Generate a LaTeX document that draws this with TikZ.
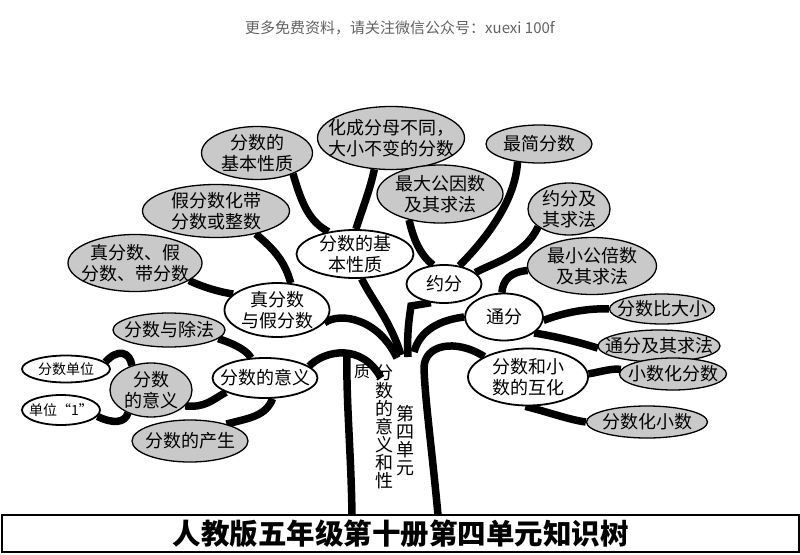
\documentclass[tikz,border=0pt]{standalone}
\usepackage{fontspec}
\setmainfont{Noto Sans CJK SC}
\usetikzlibrary{shapes.geometric}
\pgfdeclarelayer{bg}
\pgfsetlayers{bg,main}

\begin{document}
\begin{tikzpicture}[x=1pt, y=-1pt,
    wnode/.style={ellipse, draw, line width=1.8pt, fill=white, inner sep=-12pt, align=center, font=\fontsize{18}{21}\selectfont},
    gnode/.style={ellipse, draw, line width=1.3pt, fill=gray!42, inner sep=-12pt, align=center, font=\fontsize{18}{21}\selectfont},
    snode/.style={wnode, font=\fontsize{14}{16}\selectfont},
    vtext/.style={align=center, inner sep=0pt, font=\fontsize{18}{18}\selectfont},
    branch/.style={line width=7.5pt}]
    \useasboundingbox (0,0) rectangle (800,554);

    \coordinate (t01) at (352,515);
    \coordinate (t02) at (347,354);
    \coordinate (t03) at (381,378);
    \coordinate (t04) at (397,358);
    \coordinate (t05) at (401,355);
    \coordinate (t06) at (408,357);
    \coordinate (t07) at (414,352);
    \coordinate (t08) at (438,515);

    \node[text=black!62, font=\fontsize{15}{18}\selectfont] (h01) at (400,28) {更多免费资料，请关注微信公众号：xuexi 100f};
    \node[draw, line width=1.5pt, minimum width=797, minimum height=37, inner sep=0pt, font=\bfseries\fontsize{28.5}{30}\selectfont] (title) at (400.5,533.5) {人教版五年级第十册第四单元知识树};

    \node[wnode, minimum width=105, minimum height=40] (w01) at (265,378) {分数的意义};
    \node[wnode, minimum width=105, minimum height=54] (w02) at (277,310) {真分数\\与假分数};
    \node[wnode, minimum width=117, minimum height=48] (w03) at (355,254) {分数的基\\本性质};
    \node[wnode, minimum width=75, minimum height=38] (w04) at (444,284) {约分};
    \node[wnode, minimum width=78, minimum height=47] (w05) at (504,317) {通分};
    \node[wnode, minimum width=120, minimum height=57] (w06) at (528,377) {分数和小\\数的互化};
    \node[snode, minimum width=88, minimum height=27] (w07) at (66,369) {分数单位};
    \node[snode, minimum width=78, minimum height=30] (w08) at (61,410) {单位“1”};

    \node[gnode, minimum width=82, minimum height=54] (g01) at (151,390) {分数\\的意义};
    \node[gnode, minimum width=116, minimum height=42] (g02) at (190,441) {分数的产生};
    \node[gnode, minimum width=112, minimum height=34] (g03) at (169,330) {分数与除法};
    \node[gnode, minimum width=134, minimum height=57] (g04) at (135,263) {真分数、假\\分数、带分数};
    \node[gnode, minimum width=147, minimum height=53] (g05) at (216,211) {假分数化带\\分数或整数};
    \node[gnode, minimum width=111, minimum height=53] (g06) at (257,153) {分数的\\基本性质};
    \node[gnode, minimum width=147, minimum height=63] (g07) at (391,138) {化成分母不同，\\大小不变的分数};
    \node[gnode, minimum width=126, minimum height=58] (g08) at (440,194) {最大公因数\\及其求法};
    \node[gnode, minimum width=106, minimum height=38] (g09) at (539,144) {最简分数};
    \node[gnode, minimum width=82, minimum height=52] (g10) at (569,209) {约分及\\其求法};
    \node[gnode, minimum width=129, minimum height=57] (g11) at (592,266) {最小公倍数\\及其求法};
    \node[gnode, minimum width=105, minimum height=30] (g12) at (662,309) {分数比大小};
    \node[gnode, minimum width=122, minimum height=32] (g13) at (659,346) {通分及其求法};
    \node[gnode, minimum width=107, minimum height=32] (g14) at (673,374) {小数化分数};
    \node[gnode, minimum width=121, minimum height=32] (g15) at (647,422) {分数化小数};

    \node[vtext] (v01) at (405,441) {第\\四\\单\\元};
    \node[vtext] (v02) at (384,427) {分\\数\\的\\意\\义\\和\\性};
    \node[vtext, font=\fontsize{16}{16}\selectfont] (v03) at (362,371) {质};

    \begin{pgfonlayer}{bg}
    \draw[branch] (t01) .. controls (351,450) and (346,400) .. (t02);
    \draw[branch] (w01.15) .. controls (325,350) and (362,343) .. (t03);
    \draw[branch] (w02.-15) .. controls (340,312) and (378,318) .. (t04);
    \draw[branch] (w03.-75) .. controls (372,300) and (390,320) .. (t05);
    \draw[branch] (w04.-125) -- (411,306) .. controls (408,325) and (407,340) .. (t06);
    \draw[branch] (w05.180) .. controls (440,320) and (420,330) .. (t07);
    \draw[branch] (t08) .. controls (432,450) and (425,400) .. (424,368) .. controls (424,345) and (455,338) .. (w06.155);

    \draw[branch] (w07.10) .. controls (118,348) and (130,352) .. (g01.128);
    \draw[branch] (w08.-10) .. controls (113,424) and (125,423) .. (g01.225);
    \draw[branch] (g01.-25) .. controls (205,408) and (212,400) .. (w01.200);
    \draw[branch] (g02.25) .. controls (250,418) and (266,416) .. (w01.-70);
    \draw[branch] (g03.-10) .. controls (238,345) and (248,352) .. (w01.125);
    \draw[branch] (g04.-18) .. controls (205,288) and (220,292) .. (w02.160);
    \draw[branch] (g05.-30) .. controls (275,250) and (285,262) .. (w02.63);
    \draw[branch] (g06.-30) .. controls (302,205) and (310,222) .. (w03.140);
    \draw[branch] (g07.-118) .. controls (370,190) and (362,210) .. (w03.88);
    \draw[branch] (g08.-140) .. controls (413,238) and (420,255) .. (w04.120);
    \draw[branch] (g09.-140) .. controls (515,205) and (480,245) .. (w04.50);
    \draw[branch] (g10.-150) .. controls (525,255) and (495,262) .. (w04.20);
    \draw[branch] (g11.184) .. controls (510,272) and (503,280) .. (w05.95);
    \draw[branch] (w05.-5) .. controls (565,312) and (590,308) .. (g12.180);
    \draw[branch] (w05.-28) .. controls (560,337) and (585,344) .. (g13.182);
    \draw[branch] (w06.3) .. controls (600,372) and (612,368) .. (g14.175);
    \draw[branch] (w06.-95) .. controls (548,412) and (570,420) .. (g15.180);
    \end{pgfonlayer}
\end{tikzpicture}
\end{document}
